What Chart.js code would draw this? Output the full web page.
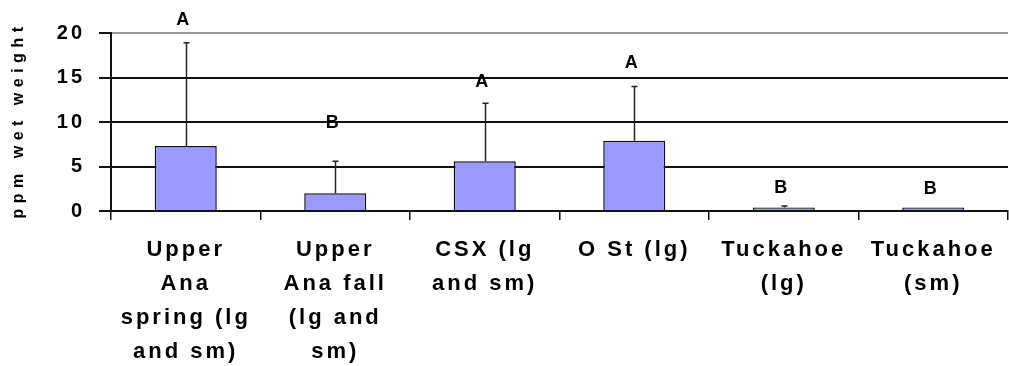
<!DOCTYPE html>
<html>
<head>
<meta charset="utf-8">
<script src="https://cdn.jsdelivr.net/npm/chart.js@4.4.1/dist/chart.umd.min.js"></script>
<style>
  html, body { margin: 0; padding: 0; background: #fff; }
  #wrap { position: relative; width: 1009px; height: 366px; }
</style>
</head>
<body>
<div id="wrap"><canvas id="chart"></canvas></div>
<script>
const SITES = [
  ['Upper', 'Ana', 'spring (lg', 'and sm)'],
  ['Upper', 'Ana fall', '(lg and', 'sm)'],
  ['CSX (lg', 'and sm)'],
  ['O St (lg)'],
  ['Tuckahoe', '(lg)'],
  ['Tuckahoe', '(sm)'],
];
const MEANS = [7.3, 2.0, 5.6, 7.9, 0.4, 0.4];
const ERROR_TOPS = [18.9, 5.6, 12.1, 14.0, 0.55, 0.4];
const GROUPS = ['A', 'B', 'A', 'A', 'B', 'B'];
const GROUP_Y = [21.5, 9.9, 14.5, 16.6, 2.6, 2.5];
const Y_TICKS = [0, 5, 10, 15, 20];

const FONT = 'Arial, "Liberation Sans", sans-serif';

// wide excel-like letter spacing for the axis labels (scales draw before datasets)
const axisSpacing = {
  id: 'axisSpacing',
  beforeDraw(chart) {
    chart.ctx.letterSpacing = '3px';
  },
  beforeDatasetsDraw(chart) {
    chart.ctx.letterSpacing = '0px';
  },
};

// error bars + significance letters + rotated y title
const extras = {
  id: 'extras',
  afterDatasetsDraw(chart) {
    const { ctx, scales: { x, y } } = chart;
    ctx.save();
    ctx.strokeStyle = '#222';
    ctx.lineWidth = 1.5;
    ERROR_TOPS.forEach((top, i) => {
      if (top <= MEANS[i]) return;
      const px = Math.round(x.getPixelForValue(i)) + 0.5;
      const y0 = y.getPixelForValue(MEANS[i]);
      const y1 = y.getPixelForValue(top);
      ctx.beginPath();
      ctx.moveTo(px, y0);
      ctx.lineTo(px, y1);
      ctx.moveTo(px - 3, y1);
      ctx.lineTo(px + 3, y1);
      ctx.stroke();
    });
    ctx.fillStyle = '#000';
    ctx.font = 'bold 18px ' + FONT;
    ctx.letterSpacing = '0px';
    ctx.textAlign = 'center';
    ctx.textBaseline = 'middle';
    GROUPS.forEach((g, i) => {
      ctx.fillText(g, x.getPixelForValue(i) - 3, y.getPixelForValue(GROUP_Y[i]));
    });
    ctx.restore();
  },
  afterDraw(chart) {
    const { ctx } = chart;
    ctx.save();
    ctx.translate(19, 123);
    ctx.rotate(-Math.PI / 2);
    ctx.fillStyle = '#000';
    ctx.font = 'bold 16px ' + FONT;
    ctx.letterSpacing = '5.5px';
    ctx.textAlign = 'center';
    ctx.textBaseline = 'middle';
    ctx.fillText('ppm wet weight', 3, 0);
    ctx.restore();
  },
};

new Chart(document.getElementById('chart'), {
  type: 'bar',
  data: {
    labels: SITES,
    datasets: [{
      data: MEANS,
      backgroundColor: '#9999ff',
      borderColor: '#111',
      borderWidth: 1.5,
      barPercentage: 0.415,
      categoryPercentage: 1,
    }],
  },
  options: {
    responsive: true,
    maintainAspectRatio: false,
    animation: false,
    layout: { padding: { top: 33, right: 1, left: 0, bottom: 0 } },
    plugins: {
      legend: { display: false },
      tooltip: { enabled: false },
    },
    scales: {
      x: {
        grid: {
          offset: true,
          drawOnChartArea: false,
          tickLength: 9,
          tickColor: '#111',
          lineWidth: 1.5,
        },
        border: { display: true, color: '#111', width: 2 },
        ticks: {
          color: '#000',
          font: { family: FONT, size: 22, weight: 'bold', lineHeight: '34px' },
          padding: 13,
          maxRotation: 0,
          autoSkip: false,
        },
        afterFit(scale) { scale.height = 155; },
      },
      y: {
        min: 0,
        max: 20,
        afterBuildTicks(scale) { scale.ticks = Y_TICKS.map(v => ({ value: v })); },
        grid: {
          color: ctx => (ctx.tick && ctx.tick.value === 20 ? '#9a9a9a' : '#111'),
          tickColor: '#111',
          lineWidth: 2,
          tickLength: 12,
        },
        border: { display: true, color: '#111', width: 2 },
        ticks: {
          color: '#000',
          font: { family: FONT, size: 20, weight: 'bold' },
          padding: 14,
        },
        afterFit(scale) { scale.width = 111; },
      },
    },
  },
  plugins: [axisSpacing, extras],
});
</script>
</body>
</html>
